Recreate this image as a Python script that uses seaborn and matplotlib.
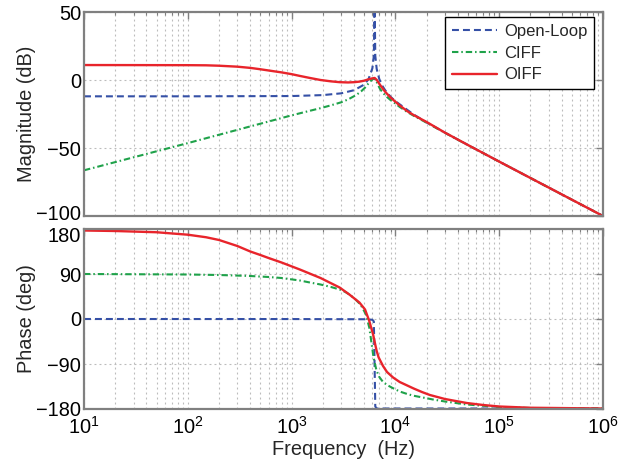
import matplotlib
matplotlib.use("Agg")
import matplotlib.pyplot as plt
import seaborn as sns
from matplotlib.ticker import LogLocator, FixedLocator, NullFormatter
from matplotlib.transforms import ScaledTranslation

# ---- Bode data: frequency in Hz, magnitude in dB, phase in degrees ----
ol_mag_freq = [10, 100, 1000, 2000, 3000, 4000, 5000, 5500, 6000, 6200, 6300,
               6400, 6600, 7000, 7500, 8000, 9000, 10000, 15000, 20000, 30000,
               50000, 100000, 200000, 500000, 1000000]
ol_mag = [-12, -12, -11.8, -11.1, -9.8, -7.5, -3.4, 0.5, 8.6, 18, 60,
          17.9, 8.2, 0.6, -4.4, -7.7, -12.4, -15.6, -25.4, -31.2, -38.7,
          -47.8, -60, -72.1, -88, -100]

ciff_mag_freq = [10, 100, 1000, 1400, 1900, 2400, 3000, 3500, 4200, 4700, 5100,
                 5600, 6000, 6300, 6600, 7100, 7600, 8300, 9000, 10000, 11000,
                 13000, 15000, 20000, 30000, 50000, 100000, 1000000]
ciff_mag = [-66.4, -46.4, -26.0, -23.2, -20.7, -18.6, -16.4, -14.3, -11, -8.2, -5.6,
            -1.8, 0.4, 1.2, -1.5, -6.5, -9.5, -12.5, -14.8, -17.3, -19.8,
            -23.5, -26.3, -31.4, -38.8, -47.9, -60, -100]

oiff_mag_freq = [10, 100, 150, 200, 300, 400, 500, 600, 800, 1000, 1200, 1500,
                 1900, 2400, 2900, 3500, 4000, 4500, 5000, 5600, 6000, 6300,
                 6600, 7100, 7600, 8000, 8900, 10000, 11000, 13000, 15000,
                 20000, 30000, 50000, 100000, 1000000]
oiff_mag = [11, 10.9, 10.8, 10.5, 9.8, 8.9, 7.9, 7.0, 5.6, 4.3, 3.0, 1.5,
            0, -1.0, -1.6, -1.8, -1.6, -1.2, -0.5, 0.7, 1.2, 1.5,
            0.2, -3.5, -6.6, -8.8, -12.6, -16.0, -18.7, -22.9, -25.8,
            -30.9, -38.7, -47.8, -60, -100]

ol_ph_freq = [10, 1000, 5000, 6000, 6200, 6300, 6400, 6600, 10000, 1000000]
ol_phase = [0, -0.1, -0.5, -1.5, -5, -90, -175, -179, -179, -179]

ciff_ph_freq = [10, 100, 200, 400, 600, 800, 1200, 1500, 1900, 2400, 2900,
                3300, 3600, 4000, 4500, 4800, 5200, 5600, 5850, 6100, 6350,
                6600, 7000, 7600, 8400, 9400, 11000, 13000, 15000, 20000,
                23000, 30000, 48600, 100000, 200000, 1000000]
ciff_phase = [90, 89, 88, 86, 84, 82, 77, 73, 69, 64, 59,
              54, 49, 42, 31, 23, 9, -17, -44, -71, -90,
              -104, -116, -126, -132.5, -138, -145, -150, -153.5, -158.5,
              -161, -165, -171, -176, -178, -179]

oiff_ph_freq = [10, 20, 50, 100, 150, 200, 300, 400, 500, 600, 800, 1200,
                1900, 2900, 3600, 4500, 5100, 5600, 6100, 6300, 6600, 6900,
                7600, 8300, 9500, 11000, 13000, 15000, 18000, 21500, 30000,
                48600, 70000, 100000, 200000, 1000000]
oiff_phase = [177, 176, 173.5, 168.6, 163.5, 158, 146, 135, 128, 122, 113, 99,
              82, 63, 49, 33, 19, -4, -31, -45, -64, -77,
              -94, -106, -117, -126, -133, -139, -146, -152, -160,
              -168, -172, -175, -177.5, -179]

series_names = ["Open-Loop", "CIFF", "OIFF"]
mag_tick_values = [-100, -50, 0, 50]
phase_tick_values = [-180, -90, 0, 90, 180]

# ---- styling ----
sns.set_style("white")
plt.rcParams["font.family"] = ["Liberation Sans", "DejaVu Sans"]
plt.rcParams["lines.scale_dashes"] = False

BLUE = "#3550a6"
GREEN = "#1fa24a"
RED = "#e8242b"
FRAME = "#808080"
GRID = "#bcbcbc"
FS = 14.4

styles = {
    "Open-Loop": dict(color=BLUE, lw=1.5, dashes=[5.0, 2.9]),
    "CIFF": dict(color=GREEN, lw=1.5, dashes=[4.6, 2.1, 1.1, 2.1]),
    "OIFF": dict(color=RED, lw=1.7, dashes=None),
}

fig = plt.figure(figsize=(6.36, 4.59), dpi=100)
W, H = 636, 459
ax_mag = fig.add_axes([84 / W, 1 - 216 / H, 519 / W, 204 / H])
ax_ph = fig.add_axes([84 / W, 1 - 409 / H, 519 / W, 180 / H])


def draw(ax, x, y, name):
    st = styles[name]
    sns.lineplot(x=x, y=y, ax=ax, color=st["color"], linewidth=st["lw"],
                 label=name, legend=False, sort=True)
    line = ax.lines[-1]
    if st["dashes"] is not None:
        line.set_dashes(st["dashes"])


draw(ax_mag, ol_mag_freq, ol_mag, series_names[0])
draw(ax_mag, ciff_mag_freq, ciff_mag, series_names[1])
draw(ax_mag, oiff_mag_freq, oiff_mag, series_names[2])

draw(ax_ph, ol_ph_freq, ol_phase, series_names[0])
draw(ax_ph, ciff_ph_freq, ciff_phase, series_names[1])
draw(ax_ph, oiff_ph_freq, oiff_phase, series_names[2])

for ax, yticks in ((ax_mag, mag_tick_values), (ax_ph, phase_tick_values)):
    ax.set_xscale("log")
    ax.set_xlim(10, 1e6)
    ax.set_ylim(yticks[0], yticks[-1])
    ax.yaxis.set_major_locator(FixedLocator(yticks))
    ax.xaxis.set_major_locator(LogLocator(base=10, numticks=12))
    ax.xaxis.set_minor_locator(LogLocator(base=10, subs=range(2, 10), numticks=12))
    ax.xaxis.set_minor_formatter(NullFormatter())
    ax.grid(True, which="both", axis="x", color=GRID, lw=0.8,
            linestyle=(0, (1.4, 2.2)))
    ax.grid(True, which="major", axis="y", color=GRID, lw=0.8,
            linestyle=(0, (1.4, 2.2)))
    ax.set_axisbelow(True)
    for sp in ax.spines.values():
        sp.set_color(FRAME)
        sp.set_linewidth(1.6)
        sp.set_visible(True)
    ax.tick_params(which="both", direction="in", top=True, right=True,
                   color=FRAME, labelsize=FS, labelcolor="black")
    ax.tick_params(which="major", length=5, width=1.0, pad=2)
    ax.tick_params(which="minor", length=2.5, width=0.8)
    ax.set_xlabel("")

ax_mag.tick_params(labelbottom=False)
ax_ph.tick_params(axis="x", which="major", pad=5)

ax_mag.set_ylabel("Magnitude (dB)", fontsize=FS)
ax_ph.set_ylabel("Phase (deg)", fontsize=FS)
ax_mag.yaxis.set_label_coords(-0.093, 0.5)
ax_ph.yaxis.set_label_coords(-0.093, 0.5)
ax_ph.set_xlabel("Frequency  (Hz)", fontsize=FS, labelpad=1.5)

leg = ax_mag.legend(loc="upper right", bbox_to_anchor=(0.983, 0.975),
                    frameon=True, fancybox=False, edgecolor="black",
                    fontsize=12, handlelength=2.7, borderpad=0.42,
                    labelspacing=0.4, handletextpad=0.4, borderaxespad=0)
leg.get_frame().set_linewidth(1.0)
leg.get_frame().set_alpha(1)

# nudge the edge labels where the two panels meet so they stay apart
fig.canvas.draw()
for tick in ax_mag.yaxis.get_major_ticks():
    if tick.get_loc() == -100:
        tick.label1.set_transform(tick.label1.get_transform()
                                  + ScaledTranslation(0, 0.03, fig.dpi_scale_trans))
for tick in ax_ph.yaxis.get_major_ticks():
    if tick.get_loc() == 180:
        tick.label1.set_transform(tick.label1.get_transform()
                                  + ScaledTranslation(0, -0.06, fig.dpi_scale_trans))

fig.savefig("out.png", dpi=100)
